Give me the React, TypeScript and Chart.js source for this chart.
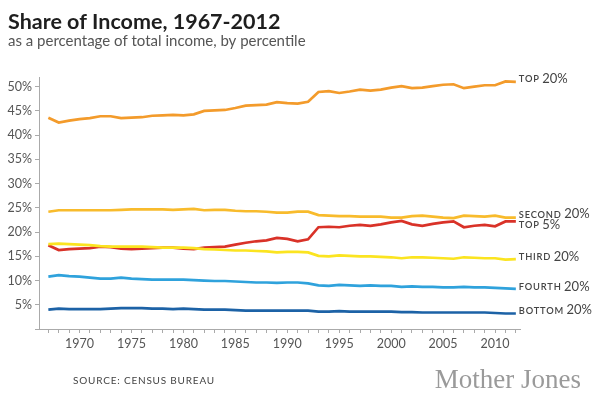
import React, { useEffect, useRef } from 'react';
import { Chart, registerables } from 'chart.js';

Chart.register(...registerables);

const years = [
  1967, 1968, 1969, 1970, 1971, 1972, 1973, 1974, 1975, 1976,
  1977, 1978, 1979, 1980, 1981, 1982, 1983, 1984, 1985, 1986,
  1987, 1988, 1989, 1990, 1991, 1992, 1993, 1994, 1995, 1996,
  1997, 1998, 1999, 2000, 2001, 2002, 2003, 2004, 2005, 2006,
  2007, 2008, 2009, 2010, 2011, 2012,
];

const top20 = [
  43.6, 42.6, 43.0, 43.3, 43.5, 43.9, 43.9, 43.5, 43.6, 43.7,
  44.0, 44.1, 44.2, 44.1, 44.3, 45.0, 45.1, 45.2, 45.6, 46.1,
  46.2, 46.3, 46.8, 46.6, 46.5, 46.9, 48.9, 49.1, 48.7, 49.0,
  49.4, 49.2, 49.4, 49.8, 50.1, 49.7, 49.8, 50.1, 50.4, 50.5,
  49.7, 50.0, 50.3, 50.3, 51.1, 51.0,
];

const second20 = [
  24.2, 24.5, 24.5, 24.5, 24.5, 24.5, 24.5, 24.6, 24.7, 24.7,
  24.7, 24.7, 24.6, 24.7, 24.8, 24.5, 24.6, 24.6, 24.4, 24.3,
  24.3, 24.2, 24.0, 24.0, 24.2, 24.2, 23.5, 23.4, 23.3, 23.3,
  23.2, 23.2, 23.2, 23.0, 23.0, 23.3, 23.4, 23.2, 23.0, 22.9,
  23.4, 23.3, 23.2, 23.4, 23.0, 23.0,
];

const top5 = [
  17.3, 16.3, 16.5, 16.6, 16.7, 17.0, 16.9, 16.6, 16.5, 16.6,
  16.7, 16.8, 16.8, 16.6, 16.5, 16.8, 16.9, 17.0, 17.4, 17.8,
  18.1, 18.3, 18.8, 18.6, 18.1, 18.5, 21.0, 21.1, 21.0, 21.3,
  21.5, 21.3, 21.6, 22.0, 22.3, 21.6, 21.3, 21.7, 22.0, 22.2,
  21.0, 21.3, 21.5, 21.2, 22.2, 22.2,
];

const third20 = [
  17.5, 17.6, 17.5, 17.4, 17.3, 17.1, 17.0, 17.0, 17.0, 17.0,
  16.9, 16.8, 16.8, 16.8, 16.7, 16.5, 16.4, 16.3, 16.2, 16.2,
  16.1, 16.0, 15.8, 15.9, 15.9, 15.8, 15.1, 15.0, 15.2, 15.1,
  15.0, 15.0, 14.9, 14.8, 14.6, 14.8, 14.8, 14.7, 14.6, 14.5,
  14.8, 14.7, 14.6, 14.6, 14.3, 14.4,
];

const fourth20 = [
  10.8, 11.1, 10.9, 10.8, 10.6, 10.4, 10.4, 10.6, 10.4, 10.3,
  10.2, 10.2, 10.2, 10.2, 10.1, 10.0, 9.9, 9.9, 9.8, 9.7,
  9.6, 9.6, 9.5, 9.6, 9.6, 9.4, 9.0, 8.9, 9.1, 9.0,
  8.9, 9.0, 8.9, 8.9, 8.7, 8.8, 8.7, 8.7, 8.6, 8.6,
  8.7, 8.6, 8.6, 8.5, 8.4, 8.3,
];

const bottom20 = [
  4.0, 4.2, 4.1, 4.1, 4.1, 4.1, 4.2, 4.3, 4.3, 4.3,
  4.2, 4.2, 4.1, 4.2, 4.1, 4.0, 4.0, 4.0, 3.9, 3.8,
  3.8, 3.8, 3.8, 3.8, 3.8, 3.8, 3.6, 3.6, 3.7, 3.6,
  3.6, 3.6, 3.6, 3.6, 3.5, 3.5, 3.4, 3.4, 3.4, 3.4,
  3.4, 3.4, 3.4, 3.3, 3.2, 3.2,
];

const seriesWords = ['TOP', 'SECOND', 'THIRD', 'FOURTH', 'BOTTOM', 'TOP'];
const seriesNumbers = ['20%', '20%', '20%', '20%', '20%', '5%'];
const yTickValues = [5, 10, 15, 20, 25, 30, 35, 40, 45, 50];

const titleText = 'Share of Income, 1967-2012';
const subtitleText = 'as a percentage of total income, by percentile';
const sourceText = 'SOURCE: CENSUS BUREAU';
const brandText = 'Mother Jones';

// label vertical nudges (style), indexed like datasets
const labelNudges = [-3, -3.5, -2.5, -2, -3.5, 3.5];

const FONT = 'Lato, "Open Sans", sans-serif';

const textPlugin = {
  id: 'mjText',
  afterDraw(chart: any) {
    const ctx = chart.ctx;
    ctx.save();
    ctx.textBaseline = 'alphabetic';
    ctx.textAlign = 'left';
    // title
    ctx.fillStyle = '#1e1e1e';
    ctx.font = `bold 21.5px ${FONT}`;
    ctx.fillText(titleText, 8, 29);
    ctx.fillStyle = '#555';
    ctx.font = `15px ${FONT}`;
    ctx.fillText(subtitleText, 8, 46);
    // source
    ctx.fillStyle = '#444';
    ctx.font = `10px ${FONT}`;
    (ctx as any).letterSpacing = '0.8px';
    ctx.textBaseline = 'middle';
    ctx.fillText(sourceText, 73, 381);
    (ctx as any).letterSpacing = '0px';
    // brand
    ctx.fillStyle = '#9a9a9a';
    ctx.font = `27px "Liberation Serif", "DejaVu Serif", serif`;
    ctx.textAlign = 'right';
    ctx.textBaseline = 'alphabetic';
    ctx.fillText(brandText, 581, 388);

    // series end labels
    ctx.textAlign = 'left';
    ctx.textBaseline = 'middle';
    ctx.fillStyle = '#444';
    chart.data.datasets.forEach((ds: any, i: number) => {
      const meta = chart.getDatasetMeta(i);
      const last = meta.data[meta.data.length - 1];
      if (!last) return;
      const x = last.x + 3;
      const y = last.y + labelNudges[i];
      ctx.font = `600 9.3px ${FONT}`;
      (ctx as any).letterSpacing = '0.8px';
      const word = seriesWords[i];
      ctx.fillText(word, x, y + 0.5);
      const w = ctx.measureText(word).width;
      (ctx as any).letterSpacing = '0px';
      ctx.font = `13px ${FONT}`;
      ctx.fillText(seriesNumbers[i], x + w + 2.5, y);
    });
    ctx.restore();
  },
};

export default function App() {
  const ref = useRef<HTMLCanvasElement | null>(null);

  useEffect(() => {
    document.body.style.margin = '0';
    const canvas = ref.current;
    if (!canvas) return;
    const mk = (arr: number[]) => arr.map((v, i) => ({ x: years[i], y: v }));
    const common = { pointRadius: 0, borderWidth: 2.7, tension: 0, fill: false };
    const chart = new Chart(canvas, {
      type: 'line',
      data: {
        datasets: [
          { label: 'Top 20%', data: mk(top20), borderColor: '#f39b2b', ...common },
          { label: 'Second 20%', data: mk(second20), borderColor: '#f8bb2c', ...common },
          { label: 'Third 20%', data: mk(third20), borderColor: '#fbe420', ...common },
          { label: 'Fourth 20%', data: mk(fourth20), borderColor: '#2fa2dc', ...common },
          { label: 'Bottom 20%', data: mk(bottom20), borderColor: '#1c62a6', ...common },
          { label: 'Top 5%', data: mk(top5), borderColor: '#d93228', ...common },
        ],
      },
      options: {
        responsive: false,
        animation: false,
        events: [],
        layout: { padding: { top: 77, right: 80, bottom: 36, left: 0 } },
        plugins: {
          legend: { display: false },
          tooltip: { enabled: false },
          title: { display: false },
        },
        scales: {
          x: {
            type: 'linear',
            min: 1966.1,
            max: 2012.4,
            afterBuildTicks: (axis: any) => {
              axis.ticks = years.map((v) => ({ value: v }));
            },
            afterFit: (axis: any) => {
              axis.height = 30;
            },
            ticks: {
              autoSkip: false,
              maxRotation: 0,
              padding: 3,
              color: '#555',
              font: { family: FONT, size: 12.5 },
              callback: (v: any) => (Number(v) % 5 === 0 ? String(v) : ''),
            },
            grid: {
              display: true,
              drawOnChartArea: false,
              drawTicks: true,
              tickLength: 4,
              color: '#aaa',
            },
            border: { display: true, color: '#aaa' },
          },
          y: {
            type: 'linear',
            min: 0,
            max: 52,
            afterBuildTicks: (axis: any) => {
              axis.ticks = [0, ...yTickValues].map((v) => ({ value: v }));
            },
            afterFit: (axis: any) => {
              axis.width = 39;
            },
            ticks: {
              padding: 3,
              color: '#555',
              font: { family: FONT, size: 12.5 },
              callback: (v: any) => (Number(v) === 0 ? '' : `${v}%`),
            },
            grid: {
              display: true,
              drawOnChartArea: false,
              drawTicks: true,
              tickLength: 4,
              color: '#aaa',
            },
            border: { display: true, color: '#aaa' },
          },
        },
      },
      plugins: [textPlugin],
    });
    return () => chart.destroy();
  }, []);

  return (
    <div style={{ width: 600, height: 395, background: '#fff' }}>
      <canvas ref={ref} width={600} height={395} />
    </div>
  );
}
